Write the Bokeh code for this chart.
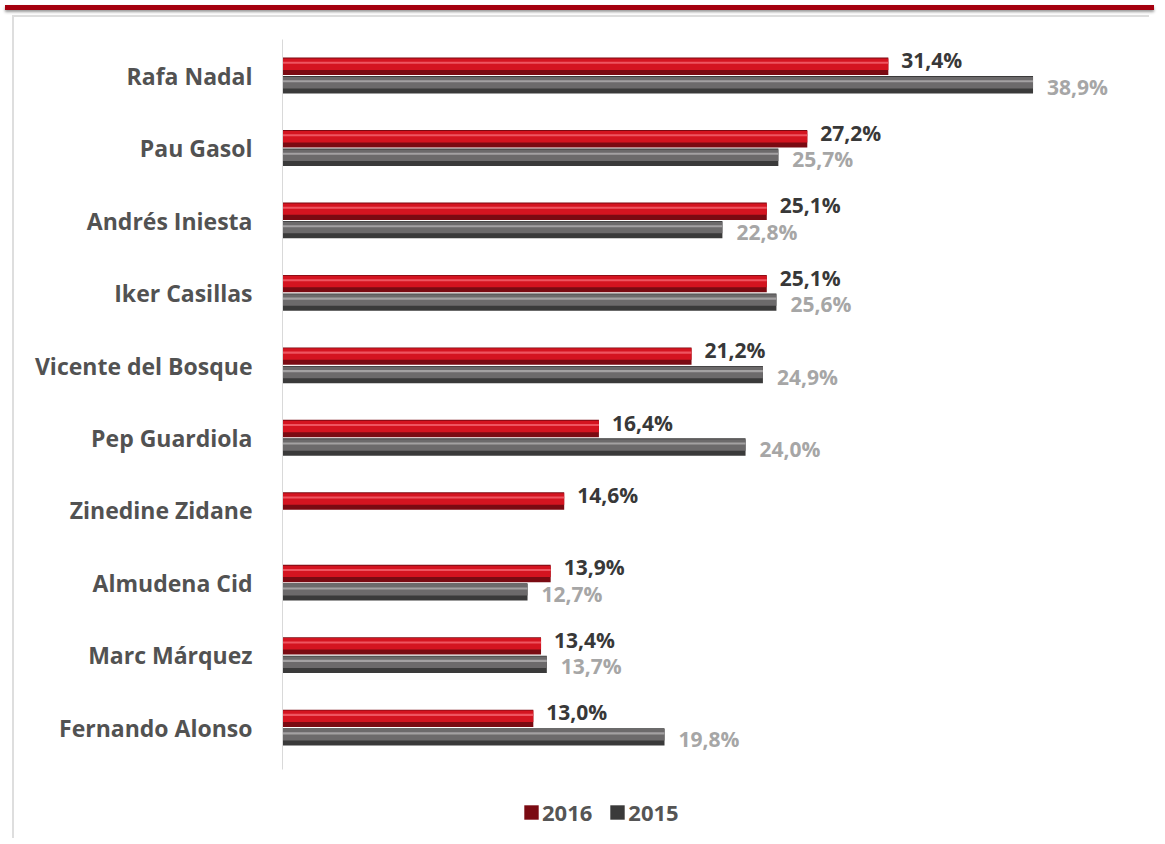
from bokeh.plotting import figure
from bokeh.models import (ColumnDataSource, Range1d, Legend, LegendItem, Div,
                          FixedTicker)
from bokeh.transform import dodge
from bokeh.layouts import column
from bokeh.core.properties import value
from bokeh.embed import file_html
from bokeh.resources import INLINE

names = ["Rafa Nadal", "Pau Gasol", "Andrés Iniesta", "Iker Casillas",
         "Vicente del Bosque", "Pep Guardiola", "Zinedine Zidane",
         "Almudena Cid", "Marc Márquez", "Fernando Alonso"]
v2016 = [31.4, 27.2, 25.1, 25.1, 21.2, 16.4, 14.6, 13.9, 13.4, 13.0]
v2015 = [38.9, 25.7, 22.8, 25.6, 24.9, 24.0, float("nan"), 12.7, 13.7, 19.8]
series = ["2016", "2015"]

def fmt(v):
    return "" if v != v else f"{v:.1f}%".replace(".", ",")

n = len(names)
ypos = [n - 1 - i for i in range(n)]   # first name on top
src = ColumnDataSource(dict(
    y=ypos, name=names, v16=v2016, v15=v2015,
    l16=[fmt(v) for v in v2016], l15=[fmt(v) for v in v2015]))

FONT = "Open Sans"

p = figure(width=1137, height=823, output_backend="svg", toolbar_location=None,
           y_range=Range1d(-1.556, n - 0.5),
           x_range=Range1d(0, 45.04),
           min_border_left=268, min_border_right=0, min_border_top=22,
           min_border_bottom=0)
p.margin = (0, 0, 0, 12)
p.styles = {"border-left": "2px solid #dedede", "border-top": "2px solid #dedede"}
p.outline_line_color = None
p.grid.visible = False
p.xaxis.visible = False

p.yaxis.ticker = FixedTicker(ticks=ypos)
p.yaxis.major_label_overrides = {y: nm for y, nm in zip(ypos, names)}
p.yaxis.bounds = (-0.57, n - 0.5)
p.yaxis.axis_line_color = "#d9d9d9"
p.yaxis.major_tick_line_color = None
p.yaxis.minor_tick_line_color = None
p.yaxis.major_label_standoff = 24
p.yaxis.major_label_text_font = FONT
p.yaxis.major_label_text_font_style = "bold"
p.yaxis.major_label_text_font_size = "23px"
p.yaxis.major_label_text_color = "#525252"

off16, off15, h = 0.13, -0.125, 0.24

def layered(col, off, colors):
    base, mid, hi = colors
    r1 = p.hbar(y=dodge("y", off), right=col, left=0, height=h,
                source=src, fill_color=base, line_color=None)
    r2 = p.hbar(y=dodge("y", off + h * 0.12), right=col, left=0,
                height=h * 0.66, source=src, fill_color=mid, line_color=None)
    p.hbar(y=dodge("y", off + h * 0.2), right=col, left=0,
           height=h * 0.12, source=src, fill_color=hi, line_color=None)
    return r1, r2

r16 = layered("v16", off16, ("#7a0a12", "#d41420", "#ee5560"))
r15 = layered("v15", off15, ("#3a3a3a", "#6c6a6b", "#a3a1a2"))

p.text(x="v16", y=dodge("y", off16), text="l16", source=src,
       x_offset=13, y_offset=-6, text_baseline="middle",
       text_font=value(FONT), text_font_style="bold", text_font_size="21px",
       text_color="#383838")
p.text(x="v15", y=dodge("y", off15), text="l15", source=src,
       x_offset=14, y_offset=2, text_baseline="middle",
       text_font=value(FONT), text_font_style="bold", text_font_size="21px",
       text_color="#a6a6a6")

legend = Legend(items=[LegendItem(label=series[0], renderers=[r16[0]]),
                       LegendItem(label=series[1], renderers=[r15[0]])],
                orientation="horizontal", location=(240, 13),
                glyph_width=18, glyph_height=18, label_standoff=2, spacing=16,
                padding=0, margin=0, border_line_color=None,
                background_fill_alpha=0,
                label_text_font=FONT, label_text_font_style="bold",
                label_text_font_size="22px", label_text_color="#555555")
p.add_layout(legend, "center")

banner = Div(width=1149, height=5,
             styles={"background-color": "#a5000f",
                     "box-shadow": "0 2px 3px #999"})

layout = column(banner, p, spacing=0)
open("out.html", "w").write(file_html(layout, INLINE))
